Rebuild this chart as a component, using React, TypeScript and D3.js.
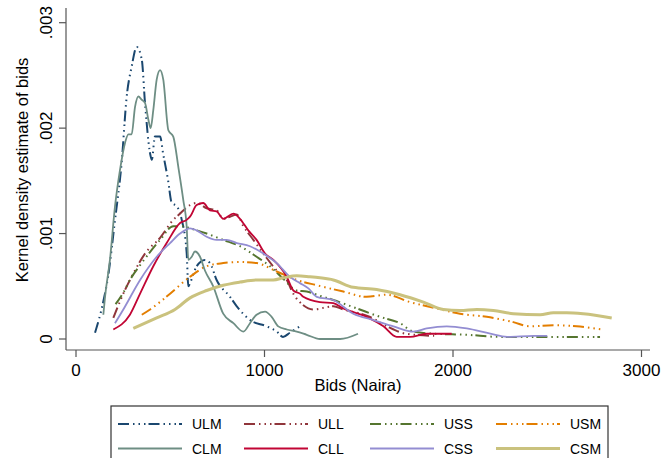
import React from "react";
import * as d3 from "d3";

type Pt = [number, number];

// bids (naira), density
const ULM: Pt[] = [
  [101, 0.00006], [143, 0.00034], [170, 0.00059], [207, 0.00113], [242, 0.00167], [269, 0.0023],
  [295, 0.00258], [322, 0.00277], [349, 0.00265], [366, 0.00224], [393, 0.00176], [402, 0.0017],
  [419, 0.00192], [446, 0.00192], [462, 0.00176], [488, 0.00151], [508, 0.00129], [534, 0.00126],
  [561, 0.00113], [587, 0.00082], [596, 0.0005], [605, 0.00053], [640, 0.00069], [684, 0.00075],
  [711, 0.00072], [746, 0.00056], [817, 0.0004], [853, 0.00031], [923, 0.00018], [1012, 0.00012],
  [1065, 0.00007], [1098, 0.00002], [1135, 0.00006], [1188, 0.00012],
];
const ULL: Pt[] = [
  [198, 0.0002], [251, 0.00043], [304, 0.00062], [366, 0.00081], [446, 0.00096], [516, 0.00113],
  [552, 0.00119], [605, 0.00127], [640, 0.00129], [693, 0.00124], [746, 0.00122], [781, 0.00114],
  [817, 0.00116], [853, 0.00118], [888, 0.00107], [941, 0.00094], [994, 0.00081], [1065, 0.00065],
  [1118, 0.00056], [1153, 0.00043], [1206, 0.00032], [1259, 0.00028], [1365, 0.00031], [1418, 0.00028],
  [1560, 0.00021], [1650, 0.00012], [1750, 0.00005], [1900, 0.00003],
];
const USS: Pt[] = [
  [210, 0.00033], [251, 0.00044], [286, 0.00056], [340, 0.0007], [446, 0.00094], [516, 0.00107],
  [569, 0.00107], [605, 0.00105], [693, 0.001], [781, 0.00094], [870, 0.00088], [958, 0.00078],
  [1029, 0.00069], [1100, 0.00057], [1171, 0.00046], [1224, 0.00045], [1294, 0.00041], [1365, 0.00037],
  [1490, 0.00029], [1613, 0.00021], [1719, 0.00015], [1790, 0.00007], [1896, 0.00005], [2073, 0.00004],
  [2249, 0.00002], [2427, 0.00002], [2604, 0.00002], [2780, 0.00002],
];
const USM: Pt[] = [
  [349, 0.00023], [393, 0.00028], [499, 0.00043], [605, 0.00059], [693, 0.00069], [781, 0.00072],
  [870, 0.00073], [958, 0.00072], [1065, 0.00064], [1171, 0.00056], [1277, 0.00051], [1418, 0.00045],
  [1542, 0.0004], [1648, 0.00042], [1772, 0.00035], [1913, 0.00029], [2037, 0.00024], [2179, 0.00021],
  [2320, 0.00016], [2408, 0.00012], [2532, 0.00013], [2656, 0.00012], [2789, 0.00009],
];
const CLM: Pt[] = [
  [145, 0.00023], [154, 0.0004], [180, 0.00075], [207, 0.00126], [233, 0.0016], [260, 0.00186],
  [278, 0.00194], [295, 0.00194], [313, 0.0022], [331, 0.0023], [348, 0.00227], [366, 0.00224],
  [384, 0.00208], [396, 0.002], [410, 0.00217], [428, 0.00246], [446, 0.00255], [463, 0.00246],
  [490, 0.00198], [516, 0.00192], [543, 0.00163], [569, 0.00132], [587, 0.00107], [596, 0.00075],
  [614, 0.00078], [631, 0.00083], [658, 0.00078], [684, 0.00065], [728, 0.0005], [781, 0.00024],
  [835, 0.00015], [888, 0.00007], [923, 0.00015], [958, 0.00023], [1003, 0.00026], [1038, 0.00021],
  [1073, 0.00012], [1118, 0.00009], [1171, 0.00007], [1224, 0.00004], [1294, 0.0], [1401, 0.0],
  [1496, 0.00005],
];
const CLL: Pt[] = [
  [198, 0.00009], [286, 0.00023], [340, 0.00043], [410, 0.00069], [481, 0.00091], [552, 0.0011],
  [587, 0.00113], [605, 0.00116], [640, 0.00127], [675, 0.00129], [711, 0.00122], [746, 0.00121],
  [781, 0.00114], [835, 0.00119], [870, 0.00114], [914, 0.00103], [958, 0.00094], [1003, 0.00081],
  [1047, 0.00075], [1118, 0.00059], [1153, 0.00046], [1188, 0.00043], [1206, 0.0004], [1294, 0.00035],
  [1365, 0.00034], [1418, 0.00029], [1542, 0.00021], [1631, 0.00012], [1701, 0.00002], [1772, 0.00002],
  [1861, 0.00005], [1993, 0.00005],
];
const CSS: Pt[] = [
  [207, 0.00015], [251, 0.00028], [340, 0.00056], [428, 0.00078], [499, 0.00091], [552, 0.001],
  [605, 0.00105], [640, 0.00103], [693, 0.00097], [746, 0.00094], [799, 0.00094], [853, 0.00091],
  [923, 0.00088], [994, 0.00081], [1065, 0.00072], [1135, 0.00059], [1188, 0.00053], [1233, 0.00048],
  [1277, 0.0004], [1365, 0.00037], [1471, 0.00024], [1578, 0.00018], [1684, 0.00012], [1790, 0.00007],
  [1861, 0.0001], [1967, 0.00012], [2073, 0.0001], [2198, 0.00005], [2287, 0.00002], [2427, 0.00003],
  [2500, 0.00003],
];
const CSM: Pt[] = [
  [304, 0.0001], [428, 0.0002], [525, 0.00028], [605, 0.00039], [693, 0.00046], [781, 0.00051],
  [870, 0.00054], [958, 0.00056], [1047, 0.00056], [1100, 0.00058], [1171, 0.0006], [1241, 0.00059],
  [1294, 0.00058], [1365, 0.00056], [1471, 0.00049], [1595, 0.00047], [1719, 0.00042], [1843, 0.00035],
  [1949, 0.00028], [2037, 0.00027], [2126, 0.00028], [2214, 0.00027], [2320, 0.00024], [2462, 0.00023],
  [2532, 0.00025], [2603, 0.00025], [2691, 0.00024], [2842, 0.0002],
];

const xTicks = [0, 1000, 2000, 3000];
const yTicks = [0, 0.001, 0.002, 0.003];
const yTickLabels = ["0", ".001", ".002", ".003"];

const dashDots = "11,4,1.5,4,1.5,4,1.5,3";
const series = [
  { name: "ULM", data: ULM, color: "#1a476f", width: 2, dash: dashDots },
  { name: "ULL", data: ULL, color: "#90353b", width: 2, dash: dashDots },
  { name: "USS", data: USS, color: "#55752f", width: 2, dash: dashDots },
  { name: "USM", data: USM, color: "#e37e00", width: 2, dash: dashDots },
  { name: "CLM", data: CLM, color: "#6e8e84", width: 1.8, dash: "none" },
  { name: "CLL", data: CLL, color: "#c10534", width: 1.8, dash: "none" },
  { name: "CSS", data: CSS, color: "#938dd2", width: 1.8, dash: "none" },
  { name: "CSM", data: CSM, color: "#cac27e", width: 3, dash: "none" },
];

const font = "'Liberation Sans', Arial, sans-serif";

export default function App() {
  const W = 672;
  const H = 458;
  const x = d3.scaleLinear().domain([0, 3000]).range([76, 641.5]);
  const y = d3.scaleLinear().domain([0, 0.003]).range([339, 22.7]);
  const line = d3
    .line<Pt>()
    .x((d) => x(d[0]))
    .y((d) => y(d[1]))
    .curve(d3.curveMonotoneX);

  const axisX0 = 66;
  const axisX1 = 650;
  const axisY = 350;

  return (
    <svg width={W} height={H} style={{ position: "absolute", left: 0, top: 0 }} fontFamily={font}>
      <rect width={W} height={H} fill="#fff" />
      {/* axes */}
      <line x1={axisX0} x2={axisX1} y1={axisY} y2={axisY} stroke="#555" strokeWidth={1.2} />
      <line x1={axisX0} x2={axisX0} y1={8} y2={axisY} stroke="#555" strokeWidth={1.2} />
      {xTicks.map((t) => (
        <g key={t}>
          <line x1={x(t)} x2={x(t)} y1={axisY} y2={axisY + 7} stroke="#555" strokeWidth={1.2} />
          <text x={x(t)} y={376} textAnchor="middle" fontSize={17} fill="#000">
            {t}
          </text>
        </g>
      ))}
      {yTicks.map((t, i) => (
        <g key={t}>
          <line x1={axisX0 - 7} x2={axisX0} y1={y(t)} y2={y(t)} stroke="#555" strokeWidth={1.2} />
          <text
            transform={`translate(52,${y(t)}) rotate(-90)`}
            textAnchor="middle"
            fontSize={17}
            fill="#000"
          >
            {yTickLabels[i]}
          </text>
        </g>
      ))}
      <text x={358} y={391} textAnchor="middle" fontSize={16.5} fill="#000">
        Bids (Naira)
      </text>
      <text transform="translate(28,170) rotate(-90)" textAnchor="middle" fontSize={16.5} fill="#000">
        Kernel density estimate of bids
      </text>
      {/* curves */}
      {series.map((s) => (
        <path
          key={s.name}
          d={line(s.data) ?? ""}
          fill="none"
          stroke={s.color}
          strokeWidth={s.width}
          strokeDasharray={s.dash}
          strokeLinejoin="round"
        />
      ))}
      {/* legend */}
      <rect x={111} y={406} width={497} height={70} fill="#fff" stroke="#333" strokeWidth={1.2} />
      {series.map((s, i) => {
        const col = i % 4;
        const row = Math.floor(i / 4);
        const lx = 118 + col * 126;
        const ly = 424 + row * 24.5;
        return (
          <g key={s.name}>
            <line
              x1={lx}
              x2={lx + 64}
              y1={ly}
              y2={ly}
              stroke={s.color}
              strokeWidth={s.width}
              strokeDasharray={s.dash}
            />
            <text x={lx + 74} y={ly + 5} fontSize={14} fill="#000">
              {s.name}
            </text>
          </g>
        );
      })}
    </svg>
  );
}
